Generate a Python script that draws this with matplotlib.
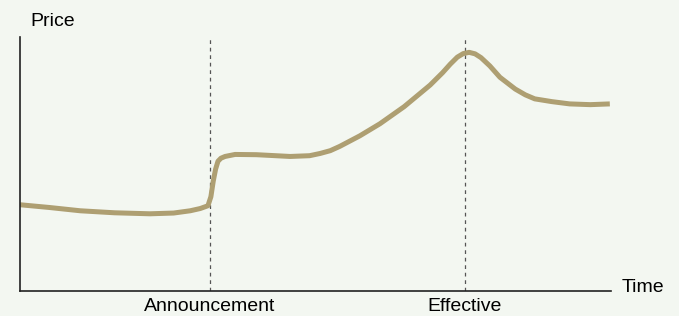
import matplotlib
matplotlib.use('Agg')
from matplotlib import pyplot as plt

# data (time 0-100, price 0-100)
time = [0, 5, 10.2, 16, 22, 26, 28.8, 30.5, 31.8, 32.3, 32.7, 33.1, 33.5, 34.0,
        34.7, 36.4, 40, 45.7, 49, 50.8, 52.5, 54.1, 57.5, 60.9, 65, 69.4,
        71.5, 72.8, 74.0, 75.0, 76.0, 77.0, 78.0, 79.5, 81.2, 83.8, 85.5, 87.1,
        90, 93, 96.5, 99.8]
price = [34.3, 33.2, 31.9, 31.1, 30.7, 31.0, 31.9, 32.8, 33.9, 37.5, 43.7,
         48.5, 51.6, 52.8, 53.5, 54.3, 54.2, 53.5, 53.8, 54.7, 55.8, 57.5,
         61.7, 66.5, 73.3, 81.9, 86.8, 90.2, 93.0, 94.4, 94.9, 94.3, 92.8,
         89.5, 85.0, 80.3, 78.0, 76.4, 75.3, 74.4, 74.1, 74.4]
events = [32.1, 75.3]
event_labels = ['Announcement', 'Effective']

bg = '#f3f7f1'
plt.rcParams['font.family'] = ['Liberation Sans', 'DejaVu Sans']

fig = plt.figure(figsize=(6.79, 3.16), dpi=100, facecolor=bg)
ax = fig.add_axes((20 / 679, 25 / 316, 591 / 679, 254 / 316))
ax.set_facecolor(bg)

for x in events:
    ax.axvline(x, color='#555555', lw=0.9, ls=(0, (3, 3)), zorder=1)

ax.plot(time, price, color='#ae9f72', lw=3.6, solid_capstyle='butt',
        solid_joinstyle='round', zorder=2)

ax.set_xlim(0, 100)
ax.set_ylim(0, 101)
ax.set_xticks(events)
ax.set_xticklabels(event_labels, fontsize=14)
ax.set_yticks([])
ax.tick_params(axis='x', length=0, pad=5)
for side in ['top', 'right']:
    ax.spines[side].set_visible(False)
for side in ['left', 'bottom']:
    ax.spines[side].set_color('#222222')
    ax.spines[side].set_linewidth(1.2)

fig.text(30 / 679, 1 - 21 / 316, 'Price', fontsize=14, va='center', ha='left')
fig.text(622 / 679, 1 - 288 / 316, 'Time', fontsize=14, va='center', ha='left')

fig.savefig('out.png', dpi=100, facecolor=bg)
